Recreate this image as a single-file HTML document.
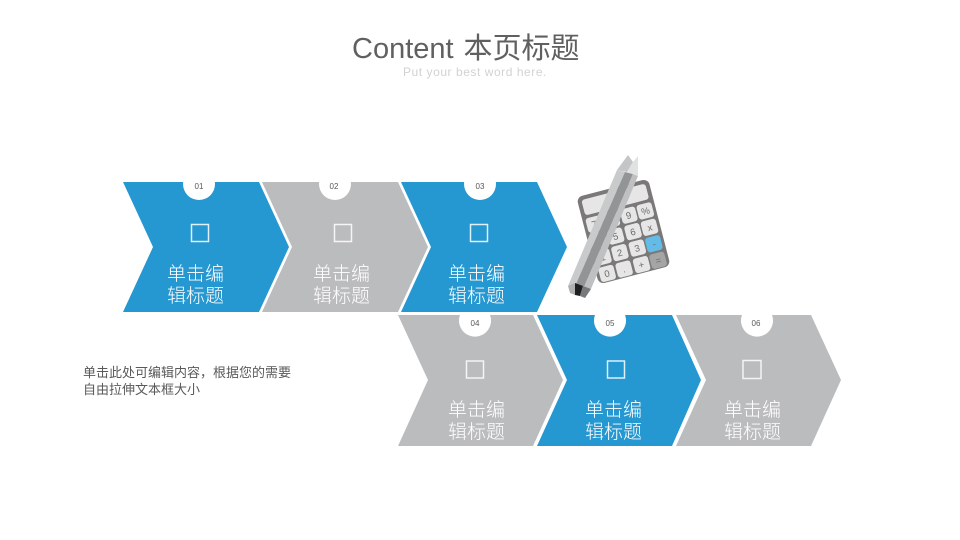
<!DOCTYPE html>
<html lang="zh">
<head>
<meta charset="utf-8">
<style>
html,body{margin:0;padding:0;background:#fff;width:960px;height:540px;overflow:hidden}
svg{display:block}
text{font-family:"Liberation Sans","Noto Sans CJK SC",sans-serif}
.t{font-size:19px;fill:#fff;text-anchor:middle;font-weight:300}
.n{font-size:8px;fill:#595959;text-anchor:middle}
.k{font-size:9.500px;fill:#6a6a6a;text-anchor:middle}
</style>
</head>
<body>
<svg width="960" height="540" viewBox="0 0 960 540" xmlns="http://www.w3.org/2000/svg">
<rect width="960" height="540" fill="#fff"/>
<text x="352" y="58" font-size="29" fill="#606060">Content</text>
<text x="463.500" y="58" font-size="29" fill="#606060">本页标题</text>
<text x="403" y="76" font-size="12" fill="#d2d2d2" letter-spacing=".55">Put your best word here.</text>

<polygon points="123,182 259,182 289,247 259,312 123,312 153,247" fill="#2597d1"/>
<polygon points="262,182 398,182 428,247 398,312 262,312 292,247" fill="#bbbcbe"/>
<polygon points="401,182 537,182 567,247 537,312 401,312 431,247" fill="#2597d1"/>
<polygon points="398,315 533,315 563,380 533,446 398,446 428,380" fill="#bbbcbe"/>
<polygon points="537,315 672,315 701,380 672,446 537,446 567,380" fill="#2597d1"/>
<polygon points="676,315 811,315 841,380 811,446 676,446 706,380" fill="#bbbcbe"/>

<circle cx="199" cy="184" r="16" fill="#fff"/>
<circle cx="335" cy="184" r="16" fill="#fff"/>
<circle cx="480" cy="184" r="16" fill="#fff"/>
<path d="M460,315 A16,16 0 1 0 490,315Z" fill="#fff"/>
<path d="M595,315 A16,16 0 1 0 625,315Z" fill="#fff"/>
<path d="M742,315 A16,16 0 1 0 772,315Z" fill="#fff"/>

<text class="n" x="199" y="189">01</text>
<text class="n" x="334" y="189">02</text>
<text class="n" x="480" y="189">03</text>
<text class="n" x="475" y="326">04</text>
<text class="n" x="610" y="326">05</text>
<text class="n" x="756" y="326">06</text>

<g fill="none" stroke="#fff" stroke-opacity=".85" stroke-width="1.5">
<rect x="191.500" y="224.500" width="17" height="17"/>
<rect x="334.500" y="224.500" width="17" height="17"/>
<rect x="470.500" y="224.500" width="17" height="17"/>
<rect x="466.500" y="361" width="17" height="17"/>
<rect x="607.500" y="361" width="17" height="17"/>
<rect x="743" y="360.500" width="18" height="18"/>
</g>

<text class="t" x="195.500" y="280">单击编</text><text class="t" x="195.500" y="302">辑标题</text>
<text class="t" x="341.500" y="280">单击编</text><text class="t" x="341.500" y="302">辑标题</text>
<text class="t" x="476.500" y="280">单击编</text><text class="t" x="476.500" y="302">辑标题</text>
<text class="t" x="476.500" y="416">单击编</text><text class="t" x="476.500" y="438">辑标题</text>
<text class="t" x="613.500" y="416">单击编</text><text class="t" x="613.500" y="438">辑标题</text>
<text class="t" x="752.500" y="416">单击编</text><text class="t" x="752.500" y="438">辑标题</text>

<text x="83" y="377" font-size="13" fill="#595959">单击此处可编辑内容，根据您的需要</text>
<text x="83" y="394" font-size="13" fill="#595959">自由拉伸文本框大小</text>

<!-- calculator -->
<g transform="translate(623.500,231.500) rotate(-14.500)">
<rect x="-37" y="-45" width="74" height="90" rx="6" fill="#7b7879"/>
<rect x="-33" y="-41" width="66" height="16" rx="3" fill="#e6e6e6"/>
<g fill="#e6e6e6">
<rect x="-34" y="-22" width="15.500" height="15" rx="3"/><rect x="-16.500" y="-22" width="15.500" height="15" rx="3"/><rect x="1.500" y="-22" width="15.500" height="15" rx="3"/><rect x="18.500" y="-22" width="15.500" height="15" rx="3"/>
<rect x="-34" y="-5" width="15.500" height="15" rx="3"/><rect x="-16.500" y="-5" width="15.500" height="15" rx="3"/><rect x="1.500" y="-5" width="15.500" height="15" rx="3"/><rect x="18.500" y="-5" width="15.500" height="15" rx="3"/>
<rect x="-34" y="12" width="15.500" height="15" rx="3"/><rect x="-16.500" y="12" width="15.500" height="15" rx="3"/><rect x="1.500" y="12" width="15.500" height="15" rx="3"/>
<rect x="-34" y="29" width="15.500" height="15" rx="3"/><rect x="-16.500" y="29" width="15.500" height="15" rx="3"/><rect x="1.500" y="29" width="15.500" height="15" rx="3"/>
</g>
<rect x="18.500" y="12" width="15.500" height="15" rx="3" fill="#63bce8"/>
<rect x="18.500" y="29" width="15.500" height="15" rx="3" fill="#a5a5a5"/>
<text class="k" x="-26.500" y="-11">7</text><text class="k" x="-9" y="-11">8</text><text class="k" x="9" y="-11">9</text><text class="k" x="26.500" y="-11">%</text>
<text class="k" x="-26.500" y="6">4</text><text class="k" x="-9" y="6">5</text><text class="k" x="9" y="6">6</text><text class="k" x="26.500" y="6">x</text>
<text class="k" x="-26.500" y="23">1</text><text class="k" x="-9" y="23">2</text><text class="k" x="9" y="23">3</text><text class="k" x="26.500" y="23">-</text>
<text class="k" x="-26.500" y="40">0</text><text class="k" x="-9" y="40">.</text><text class="k" x="9" y="40">+</text><text class="k" x="26.500" y="40">=</text>
</g>
<!-- pencil -->
<polygon points="617,170 625,172 576,284 568,286" fill="#c9cacb"/>
<polygon points="625,172 633,174 584,287 576,284" fill="#929496"/>
<polygon points="633,174 638,176 591,289 584,287" fill="#bfc0c2"/>
<polygon points="617,170 628,155 633,162 627,172" fill="#c4c5c6"/>
<polygon points="627,172 633,162 638,156 638,176" fill="#e0e1e1"/>
<polygon points="568,286 575,283 575,295 570,293" fill="#aeb0b2"/>
<polygon points="575,283 583,286 580,296 575,295" fill="#1f1f1f"/>
<polygon points="583,286 591,289 585,298 580,296" fill="#77797b"/>
</svg>
</body>
</html>
